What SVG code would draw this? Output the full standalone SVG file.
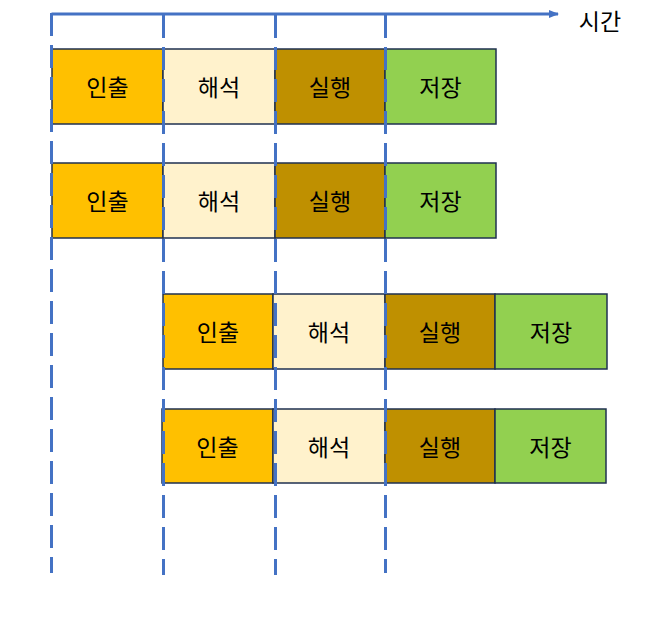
<svg xmlns="http://www.w3.org/2000/svg" width="658" height="626" viewBox="0 0 658 626">
<style>
.b{stroke:#1F3050;stroke-width:1.5}
.f{fill:#FFC000}.d{fill:#FFF2CC}.e{fill:#BF9000}.s{fill:#92D050}
text{font-family:"Noto Sans CJK KR","Noto Sans",sans-serif;font-size:23px;fill:#000;text-anchor:middle;dominant-baseline:central}
.g{stroke:#4472C4;stroke-width:3;fill:none}
.dash{stroke-dasharray:23 9}
</style>
<defs>
<marker id="ah" markerWidth="10" markerHeight="10" refX="9" refY="5" orient="auto" markerUnits="userSpaceOnUse">
<path d="M0,1 L10,5 L0,9 Z" fill="#4472C4"/>
</marker>
</defs>
<g id="row1">
<g id="r1a"><rect class="b f" x="52" y="49" width="111" height="75"/><text x="107.5" y="86">인출</text></g>
<g id="r1b"><rect class="b d" x="163" y="49" width="112" height="75"/><text x="219" y="86">해석</text></g>
<g id="r1c"><rect class="b e" x="275" y="49" width="110" height="75"/><text x="330" y="86">실행</text></g>
<g id="r1d"><rect class="b s" x="385" y="49" width="111" height="75"/><text x="440.5" y="86">저장</text></g>
</g>
<g id="row2">
<g id="r2a"><rect class="b f" x="52" y="163" width="111" height="75"/><text x="107.5" y="200">인출</text></g>
<g id="r2b"><rect class="b d" x="163" y="163" width="112" height="75"/><text x="219" y="200">해석</text></g>
<g id="r2c"><rect class="b e" x="275" y="163" width="110" height="75"/><text x="330" y="200">실행</text></g>
<g id="r2d"><rect class="b s" x="385" y="163" width="111" height="75"/><text x="440.5" y="200">저장</text></g>
</g>
<g id="row3">
<g id="r3a"><rect class="b f" x="163" y="294" width="110" height="75"/><text x="218" y="331">인출</text></g>
<g id="r3b"><rect class="b d" x="273" y="294" width="112" height="75"/><text x="329" y="331">해석</text></g>
<g id="r3c"><rect class="b e" x="385" y="294" width="110" height="75"/><text x="440" y="331">실행</text></g>
<g id="r3d"><rect class="b s" x="495" y="294" width="112" height="75"/><text x="551" y="331">저장</text></g>
</g>
<g id="row4">
<g id="r4a"><rect class="b f" x="162" y="409" width="111" height="74"/><text x="217.5" y="446">인출</text></g>
<g id="r4b"><rect class="b d" x="273" y="409" width="112" height="74"/><text x="329" y="446">해석</text></g>
<g id="r4c"><rect class="b e" x="385" y="409" width="110" height="74"/><text x="440" y="446">실행</text></g>
<g id="r4d"><rect class="b s" x="495" y="409" width="111" height="74"/><text x="550.5" y="446">저장</text></g>
</g>
<g id="connectors">
<line class="g" x1="51.5" y1="14" x2="558" y2="14" marker-end="url(#ah)"/>
<line class="g dash" x1="51.5" y1="13" x2="51.5" y2="573"/>
<line class="g dash" x1="163.5" y1="15" x2="163.5" y2="575"/>
<line class="g dash" x1="275.5" y1="15" x2="275.5" y2="575"/>
<line class="g dash" x1="385.5" y1="15" x2="385.5" y2="573"/>
</g>
<g id="axis-label"><text x="600" y="20">시간</text></g>
</svg>
